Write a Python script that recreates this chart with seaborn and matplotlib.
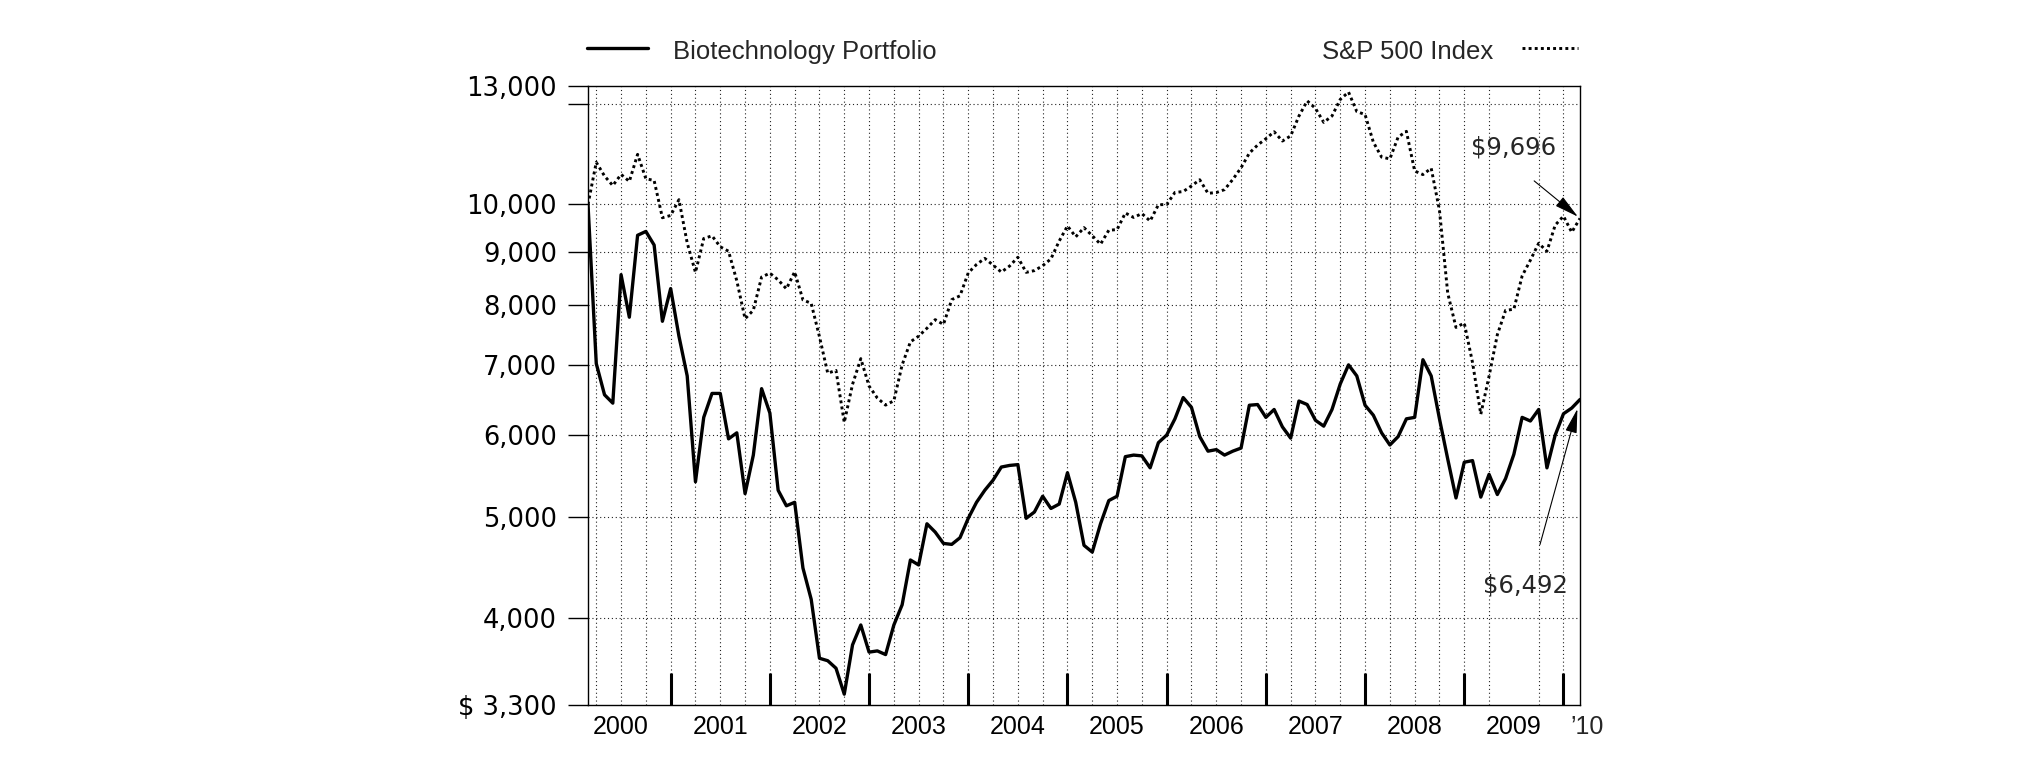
import numpy as np
import pandas as pd
import matplotlib
matplotlib.use("Agg")
import matplotlib.pyplot as plt
from matplotlib.lines import Line2D
from matplotlib.ticker import NullLocator
import seaborn as sns

# ---------------- data ----------------
month_ends = pd.date_range("2000-02-29", "2010-02-28", freq="ME")

biotech = [
    10000, 7030, 6560, 6440, 8560, 7790, 9340, 9420, 9140, 7720, 8300,          # Feb-Dec 2000
    7470, 6840, 5410, 6240, 6580, 6580, 5950, 6030, 5270, 5740, 6650, 6300,      # 2001
    5310, 5130, 5170, 4470, 4170, 3660, 3640, 3580, 3380, 3770, 3940, 3710,      # 2002
    3720, 3690, 3940, 4120, 4550, 4500, 4930, 4840, 4720, 4710, 4780, 4990,      # 2003
    5170, 5310, 5430, 5590, 5610, 5620, 4990, 5060, 5240, 5100, 5150, 5520,      # 2004
    5170, 4700, 4630, 4930, 5190, 5240, 5720, 5740, 5730, 5580, 5900, 6000,      # 2005
    6220, 6520, 6380, 5980, 5790, 5810, 5740, 5790, 5830, 6410, 6420, 6240,      # 2006
    6350, 6110, 5960, 6470, 6420, 6200, 6120, 6350, 6720, 7010, 6840, 6410,      # 2007
    6270, 6030, 5870, 5980, 6220, 6240, 7090, 6840, 6220, 5690, 5220, 5650,      # 2008
    5670, 5230, 5500, 5260, 5450, 5750, 6240, 6190, 6350, 5580, 6000, 6290,      # 2009
    6370, 6492,                                                                  # Jan-Feb 2010
]

sp500 = [
    10000, 10978, 10650, 10427, 10688, 10524, 11173, 10587, 10545, 9710, 9759,
    10106, 9184, 8603, 9273, 9329, 9105, 9016, 8445, 7764, 7911, 8515, 8588,
    8462, 8296, 8613, 8095, 8033, 7461, 6882, 6924, 6171, 6714, 7107, 6688,
    6513, 6412, 6474, 7009, 7376, 7470, 7602, 7748, 7667, 8099, 8168, 8594,
    8755, 8874, 8743, 8609, 8725, 8896, 8604, 8637, 8730, 8865, 9221, 9535,
    9308, 9499, 9331, 9157, 9445, 9458, 9813, 9717, 9800, 9640, 9994, 9999,
    10269, 10290, 10419, 10562, 10250, 10267, 10334, 10570, 10846, 11204, 11406, 11566,
    11747, 11508, 11640, 12163, 12578, 12372, 11994, 12165, 12620, 12826, 12285, 12203,
    11480, 11106, 11062, 11610, 11758, 10769, 10684, 10835, 9871, 8215, 7616, 7690,
    7046, 6284, 6836, 7494, 7910, 7928, 8535, 8840, 9176, 9015, 9553, 9744,
    9404, 9696,
]

series_names = ["Biotechnology Portfolio", "S&P 500 Index"]
year_labels = ["2000", "2001", "2002", "2003", "2004", "2005", "2006", "2007", "2008", "2009"]
end_year_label = "\u201910"
ytick_values = [3300, 4000, 5000, 6000, 7000, 8000, 9000, 10000, 12500, 13000]
ytick_labels = ["$ 3,300", "4,000", "5,000", "6,000", "7,000", "8,000", "9,000", "10,000", "", "13,000"]
end_value_labels = ["$9,696", "$6,492"]

# ---------------- styling ----------------
sns.set_theme(style="white")
plt.rcParams["font.family"] = ["DejaVu Sans"]
NARROW = ["Liberation Sans", "DejaVu Sans"]

t = np.asarray(month_ends.year + month_ends.month / 12.0, dtype=float)
df = pd.DataFrame({"t": t, "biotech": biotech, "sp500": sp500})

W, H = 2025, 761
fig = plt.figure(figsize=(W / 100, H / 100), dpi=100)
ax_left, ax_right, ax_top, ax_bottom = 588, 1580, 86, 705
ax = fig.add_axes([ax_left / W, 1 - ax_bottom / H, (ax_right - ax_left) / W, (ax_bottom - ax_top) / H])

SP_STYLE = dict(color="black", linewidth=2.1, linestyle=(0, (1, 1.1)))
BT_STYLE = dict(color="black", linewidth=2.4, linestyle="-")

sns.lineplot(data=df, x="t", y="sp500", ax=ax, estimator=None, **SP_STYLE)
sns.lineplot(data=df, x="t", y="biotech", ax=ax, estimator=None, **BT_STYLE)

ax.set_yscale("log")
ax.set_ylim(ytick_values[0], ytick_values[-1])
ax.set_xlim(t[0], t[-1])
ax.set_xlabel("")
ax.set_ylabel("")

# y axis
ax.set_yticks(ytick_values)
ax.set_yticklabels(ytick_labels)
ax.yaxis.set_minor_locator(NullLocator())
ax.tick_params(axis="y", which="major", left=True, direction="out", length=14.4, width=1.0,
               pad=8, labelsize=18.5, color="black", labelcolor="black")

# x axis: bold year-boundary ticks inside, labels centred in each year
year_starts = list(range(2001, 2011))
ax.set_xticks(year_starts)
ax.set_xticklabels([])
mid_years = [int(y) + 0.5 for y in year_labels]
ax.set_xticks(mid_years, minor=True)
ax.set_xticklabels(year_labels, minor=True, fontfamily=NARROW, fontsize=18)
ax.tick_params(axis="x", which="major", bottom=True, direction="in", length=23, width=2.2, color="black")
ax.tick_params(axis="x", which="minor", bottom=True, length=0, pad=7.2, labelcolor="black")
ax.annotate(end_year_label, xy=(t[-1] + 0.07, 0), xycoords=("data", "axes fraction"),
            xytext=(0, -7.2), textcoords="offset points", ha="center", va="top",
            fontfamily=NARROW, fontsize=18, annotation_clip=False)

# dotted grid
GRID = dict(color="#222222", linewidth=0.8, linestyle=(0, (1, 2.5)), zorder=0)
for v in ytick_values[1:-1]:
    ax.axhline(v, **GRID)
for y in range(2000, 2010):
    for q in (0.25, 0.5, 0.75, 1.0):
        x = y + q
        if x == 2009.5:
            continue
        ax.axvline(x, **GRID)

for s in ax.spines.values():
    s.set_color("black")
    s.set_linewidth(1.0)
    s.set_visible(True)

# end-value call-outs
ARROW = dict(arrowstyle="-|>,head_length=0.75,head_width=0.18", color="black", lw=0.8,
             mutation_scale=20, shrinkA=0)
ax.annotate("", xy=(t[-1], sp500[-1]), xytext=(-33, 27), textcoords="offset points",
            arrowprops=dict(ARROW, shrinkB=2), annotation_clip=False)
ax.annotate(end_value_labels[0], xy=(t[-1], sp500[-1]), xytext=(-47.5, 50.8),
            textcoords="offset points", ha="center", va="center", fontsize=17.5,
            annotation_clip=False)
ax.annotate("", xy=(t[-1], biotech[-1]), xytext=(-28.8, -104.4), textcoords="offset points",
            arrowprops=dict(ARROW, shrinkB=7), annotation_clip=False)
ax.annotate(end_value_labels[1], xy=(t[-1], biotech[-1]), xytext=(-39.6, -134),
            textcoords="offset points", ha="center", va="center", fontsize=17.5,
            annotation_clip=False)

# legend split at the two ends above the plot
ly = 1 - 47.7 / H
base = 1 - 59.3 / H
fig.add_artist(Line2D([587 / W, 648 / W], [ly, ly], transform=fig.transFigure, **BT_STYLE))
fig.text(673 / W, base, series_names[0], ha="left", va="baseline", fontfamily=NARROW, fontsize=18.5)
fig.text(1493 / W, base, series_names[1], ha="right", va="baseline", fontfamily=NARROW, fontsize=18.5)
fig.add_artist(Line2D([1522 / W, 1578 / W], [ly, ly], transform=fig.transFigure, **SP_STYLE))

fig.savefig("out.png", dpi=100, facecolor="white")
